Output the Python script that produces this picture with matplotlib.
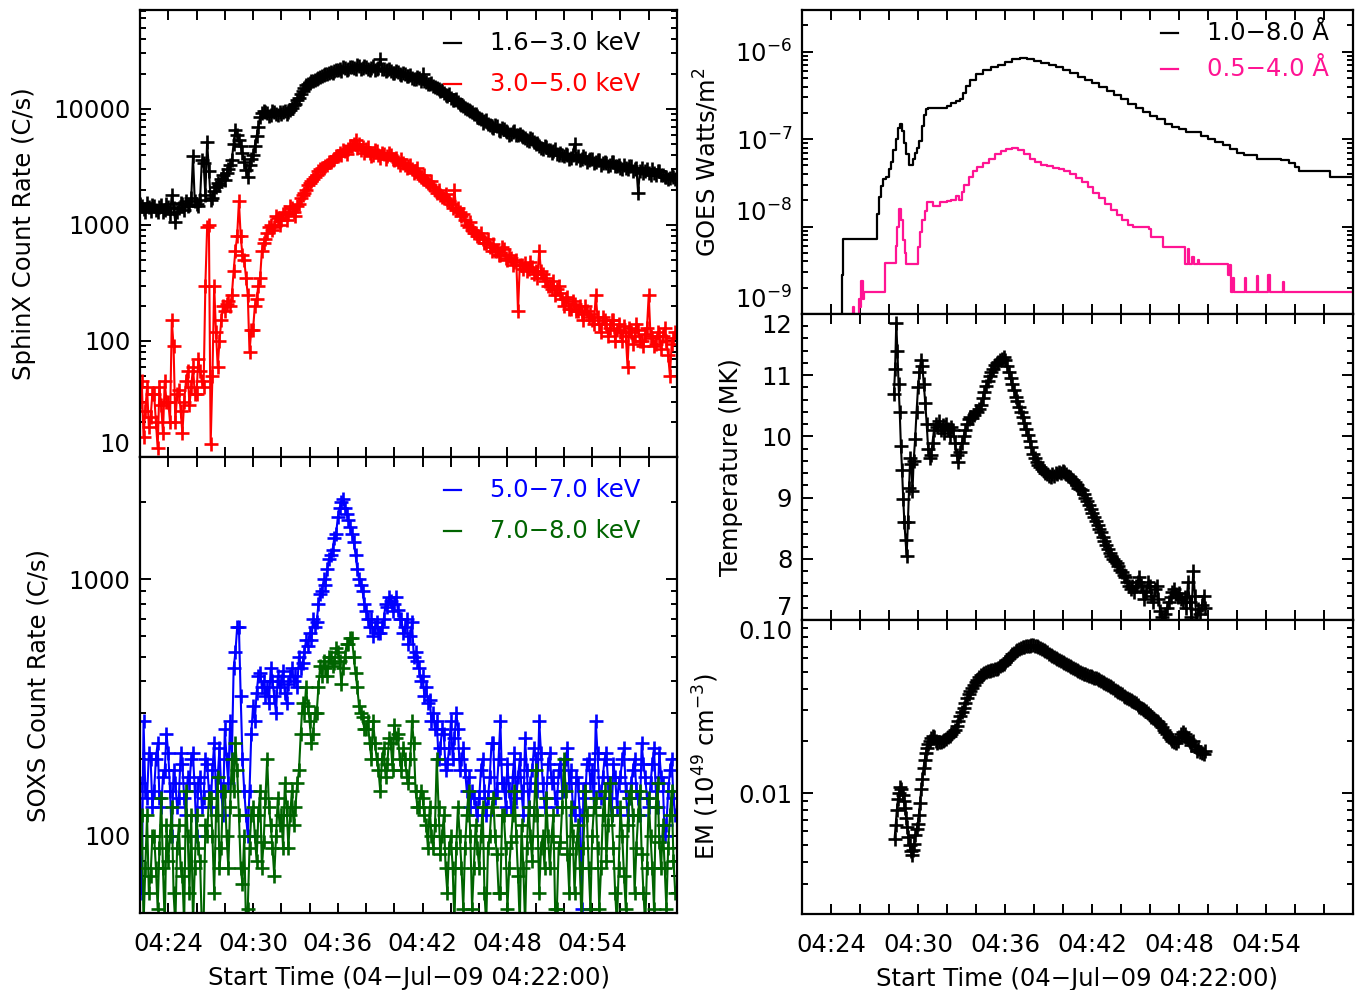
import numpy as np
import matplotlib
matplotlib.use("Agg")
import matplotlib.pyplot as plt
from matplotlib.ticker import FixedLocator, LogLocator, NullFormatter, FuncFormatter, MultipleLocator

# ---------------- data (time in minutes after 04:22:00) ----------------
tick_minutes = [2, 8, 14, 20, 26, 32]
tick_labels = ["04:24", "04:30", "04:36", "04:42", "04:48", "04:54"]
x_range = [0, 38]

cadence = 0.125  # minutes between SphinX / SOXS samples

sphinx_low = [
    1500, 1450, 1380, 1300, 1550, 1420, 1320, 1480,
    1450, 1350, 1280, 1420, 1480, 1300, 1350, 1500,
    1420, 1250, 1800, 1400, 1050, 1300, 1400, 1550,
    1500, 1350, 1600, 1450, 1480, 1700, 3900, 1600,
    1520, 1450, 1650, 3600, 3400, 1800, 5200, 2900,
    1650, 1700, 1950, 2100, 2300, 2200, 2500, 2700,
    2450, 2800, 3000, 3300, 3650, 5000, 6600, 6000,
    5400, 4800, 4200, 3500, 2950, 2600, 3300, 3700,
    4000, 4800, 5800, 7000, 8500, 9200, 9600, 9300,
    9200, 8600, 8800, 9500, 9400, 9000, 8900, 9300,
    9000, 9400, 9600, 9100, 9300, 9800, 10200, 10800,
    11000, 11800, 12400, 13300, 14200, 15000, 16000, 16500,
    16800, 17200, 17500, 17800, 18000, 18500, 18900, 19200,
    19500, 19800, 20000, 20500, 20800, 20300, 21000, 21500,
    21500, 22000, 21000, 22800, 22500, 21500, 22000, 23000,
    23000, 22500, 22000, 24000, 23500, 22000, 22500, 23200,
    22800, 22000, 21800, 22500, 23200, 21500, 22000, 22500,
    27000, 22000, 22000, 21000, 21500, 22200, 21000, 20500,
    20500, 21200, 20800, 20000, 19500, 20200, 19800, 19200,
    19000, 19500, 18500, 18000, 18000, 18800, 18600, 17500,
    20000, 17500, 17000, 16500, 16200, 16800, 15800, 15500,
    15000, 14800, 14200, 14500, 13800, 13200, 13000, 13300,
    12500, 12000, 11800, 12200, 11500, 11000, 10800, 10500,
    10200, 10000, 9800, 9500, 9400, 9100, 9000, 8700,
    8400, 8200, 7600, 7900, 8000, 7400, 7200, 7000,
    6900, 7200, 7100, 6600, 6500, 6800, 6700, 6400,
    6300, 6000, 6100, 6300, 6400, 6000, 5900, 6100,
    5800, 5700, 5600, 5400, 5300, 5600, 5500, 5200,
    5000, 5100, 4800, 4600, 4500, 4800, 4700, 4400,
    4400, 4200, 4300, 4500, 4100, 4000, 4200, 4000,
    3900, 4100, 4000, 3700, 3800, 4000, 5000, 3800,
    3900, 3600, 3700, 3900, 3800, 3500, 3600, 3700,
    3700, 3400, 3500, 3600, 3600, 3300, 3400, 3500,
    3400, 3200, 3300, 3500, 3500, 3200, 3200, 3300,
    3100, 3000, 3300, 3100, 3000, 3200, 3200, 2900,
    3000, 3100, 1900, 2900, 3100, 2800, 2900, 3000,
    2800, 2700, 3000, 2800, 2700, 2900, 2900, 2700,
    2700, 2600, 2600, 2500, 2550, 2700, 2600, 2500]

sphinx_high = [
    30, 45, 15, 25, 40, 18, 22, 35,
    35, 20, 12, 40, 28, 16, 45, 30,
    30, 20, 150, 90, 20, 35, 38, 25,
    16, 30, 45, 55, 28, 40, 60, 35,
    35, 70, 55, 45, 40, 300, 950, 1000,
    13, 50, 300, 120, 60, 100, 150, 200,
    180, 210, 220, 200, 250, 400, 600, 800,
    1600, 800, 550, 500, 350, 250, 80, 125,
    125, 200, 230, 300, 350, 600, 700, 750,
    850, 950, 1000, 900, 950, 1200, 1150, 1000,
    1100, 1250, 1300, 1100, 1250, 1450, 1400, 1300,
    1200, 1450, 1500, 1700, 1800, 1900, 2000, 2200,
    2300, 2400, 2500, 2600, 2700, 2900, 3000, 3100,
    3100, 3200, 3300, 3500, 3500, 3600, 3700, 3900,
    3900, 4200, 4000, 4400, 4300, 4100, 4500, 4800,
    4800, 5000, 5400, 4600, 5000, 4400, 4700, 4200,
    4500, 4700, 4200, 3900, 4000, 4400, 4300, 4000,
    3800, 4200, 4100, 3700, 3900, 4200, 4000, 3700,
    3600, 3800, 3500, 3300, 3700, 3400, 3300, 3100,
    3200, 3300, 3000, 2800, 2900, 3100, 2700, 2600,
    2500, 2700, 2400, 2300, 2200, 2400, 2100, 2000,
    1900, 2000, 1800, 1750, 1700, 1850, 1650, 1600,
    1500, 1400, 2000, 1350, 1400, 1300, 1200, 1250,
    1100, 1000, 950, 1050, 900, 850, 850, 800,
    800, 850, 750, 700, 700, 750, 650, 600,
    680, 600, 600, 550, 550, 650, 620, 520,
    500, 550, 520, 450, 480, 500, 180, 450,
    450, 420, 470, 400, 420, 480, 430, 380,
    400, 350, 600, 400, 380, 330, 350, 300,
    300, 280, 330, 250, 280, 300, 260, 230,
    200, 230, 240, 190, 190, 220, 210, 180,
    180, 200, 170, 150, 200, 180, 160, 170,
    150, 140, 250, 160, 140, 120, 160, 150,
    140, 110, 130, 150, 150, 100, 125, 140,
    120, 100, 135, 110, 60, 130, 120, 95,
    110, 140, 125, 100, 100, 90, 115, 130,
    250, 110, 105, 90, 95, 120, 110, 85,
    110, 130, 100, 75, 50, 95, 105, 120]

soxs_low = [
    160, 60, 280, 150, 140, 210, 200, 130,
    150, 200, 230, 140, 130, 170, 180, 250,
    210, 150, 100, 180, 160, 130, 140, 210,
    190, 140, 120, 170, 160, 200, 210, 150,
    100, 160, 170, 130, 140, 200, 190, 150,
    130, 180, 230, 150, 170, 220, 150, 120,
    260, 200, 160, 280, 200, 450, 520, 650,
    650, 350, 200, 150, 120, 100, 150, 250,
    320, 280, 360, 420, 430, 380, 400, 350,
    380, 330, 450, 400, 350, 300, 420, 380,
    400, 440, 360, 330, 390, 420, 450, 400,
    420, 380, 500, 450, 470, 520, 580, 550,
    620, 580, 700, 650, 680, 800, 880, 900,
    1000, 950, 1100, 1200, 1250, 1300, 1450, 1500,
    1750, 1900, 2000, 2050, 1900, 1800, 1700, 1600,
    1500, 1400, 1250, 1100, 1000, 950, 900, 800,
    750, 700, 650, 700, 600, 650, 680, 620,
    620, 650, 700, 800, 780, 850, 820, 750,
    800, 850, 760, 700, 700, 620, 650, 700,
    560, 600, 680, 500, 520, 480, 450, 400,
    420, 350, 380, 330, 340, 280, 300, 260,
    280, 200, 220, 260, 250, 180, 190, 220,
    280, 200, 240, 300, 260, 180, 200, 220,
    180, 150, 170, 130, 150, 140, 130, 120,
    140, 180, 200, 150, 120, 140, 170, 230,
    230, 140, 150, 200, 280, 160, 160, 130,
    190, 150, 130, 170, 210, 140, 170, 200,
    150, 120, 240, 180, 130, 160, 180, 220,
    200, 150, 280, 210, 160, 130, 140, 190,
    210, 160, 170, 140, 130, 180, 190, 150,
    150, 200, 220, 160, 180, 130, 120, 170,
    160, 120, 52, 150, 140, 190, 200, 160,
    180, 130, 280, 210, 150, 140, 170, 200,
    210, 160, 140, 120, 190, 170, 130, 160,
    170, 200, 220, 150, 120, 140, 160, 180,
    200, 150, 140, 120, 230, 190, 170, 140,
    130, 160, 190, 220, 150, 130, 210, 170,
    160, 100, 110, 150, 180, 200, 140, 120]

soxs_high = [
    90, 120, 45, 75, 120, 60, 70, 100,
    100, 75, 52, 90, 140, 75, 45, 110,
    80, 100, 130, 60, 45, 90, 110, 75,
    70, 45, 150, 100, 60, 120, 45, 75,
    120, 90, 80, 45, 45, 110, 100, 140,
    140, 100, 60, 120, 170, 75, 90, 150,
    150, 100, 75, 130, 200, 150, 230, 180,
    120, 75, 65, 100, 45, 52, 90, 120,
    130, 100, 80, 120, 150, 75, 95, 140,
    200, 130, 110, 90, 70, 100, 140, 110,
    120, 90, 160, 130, 90, 120, 150, 110,
    130, 160, 180, 250, 330, 300, 380, 320,
    280, 230, 250, 300, 300, 380, 460, 420,
    480, 450, 420, 500, 500, 460, 470, 540,
    520, 480, 390, 450, 500, 560, 560, 590,
    590, 500, 430, 380, 320, 300, 290, 260,
    260, 280, 230, 200, 280, 230, 200, 180,
    150, 200, 220, 170, 190, 240, 230, 180,
    270, 240, 250, 200, 180, 220, 200, 170,
    160, 200, 280, 230, 150, 130, 130, 150,
    140, 120, 110, 90, 130, 100, 90, 110,
    200, 130, 85, 100, 120, 75, 60, 90,
    100, 75, 45, 90, 130, 100, 75, 52,
    90, 120, 150, 100, 52, 75, 110, 90,
    75, 100, 130, 60, 45, 90, 100, 130,
    140, 100, 85, 60, 60, 120, 120, 90,
    52, 75, 95, 120, 150, 100, 70, 45,
    110, 75, 45, 90, 130, 100, 80, 120,
    180, 120, 60, 90, 100, 75, 140, 100,
    75, 100, 120, 52, 52, 90, 95, 130,
    200, 150, 85, 60, 130, 100, 60, 90,
    110, 75, 45, 90, 150, 120, 75, 52,
    100, 130, 140, 90, 52, 75, 120, 150,
    80, 110, 160, 120, 90, 60, 45, 75,
    130, 100, 70, 52, 110, 140, 150, 120,
    60, 90, 120, 150, 85, 60, 45, 75,
    140, 100, 75, 52, 130, 160, 95, 75,
    110, 75, 52, 90, 120, 150, 80, 60]

goes_long_t = [2.6, 2.75, 2.85, 5.15, 5.3, 5.45, 5.6, 5.8, 6.0, 6.15, 6.3, 6.45, 6.6, 6.75,
               6.9, 7.05, 7.2, 7.35, 7.5, 7.65, 7.8, 7.95, 8.1, 8.25, 8.4, 8.55, 8.7, 9.0,
               9.5, 10.0, 10.3, 10.6, 10.9, 11.1, 11.3, 11.6, 12.0, 12.5, 13.0, 13.5, 14.0,
               14.5, 15.0, 15.5, 16.0, 16.5, 17.0, 17.5, 18.0, 18.5, 19.0, 19.5, 20.0, 20.5,
               21.0, 21.5, 22.0, 22.5, 23.0, 23.5, 24.0, 24.5, 25.0, 25.5, 26.0, 26.5, 27.0,
               27.5, 28.0, 28.5, 29.0, 29.5, 30.0, 30.5, 31.0, 31.4, 32.5, 33.0, 33.6, 34.0,
               34.3, 36.4, 38.0]
goes_long = [5e-10, 2.8e-9, 7.2e-9, 1.4e-8, 2.2e-8, 2.9e-8, 3.5e-8, 3.7e-8, 4.5e-8, 5.5e-8,
             7.5e-8, 1.0e-7, 1.35e-7, 1.5e-7, 1.25e-7, 9e-8, 6.8e-8, 5e-8, 5e-8, 6e-8, 7e-8,
             8e-8, 9.5e-8, 1.4e-7, 1.9e-7, 2.2e-7, 2.3e-7, 2.25e-7, 2.3e-7, 2.4e-7, 2.6e-7,
             2.7e-7, 2.9e-7, 3.4e-7, 4.1e-7, 4.8e-7, 5.5e-7, 6.1e-7, 6.6e-7, 7.1e-7, 7.7e-7,
             8.2e-7, 8.4e-7, 8.3e-7, 7.9e-7, 7.5e-7, 7.1e-7, 6.7e-7, 6.2e-7, 5.7e-7, 5.2e-7,
             4.8e-7, 4.35e-7, 3.95e-7, 3.55e-7, 3.2e-7, 2.85e-7, 2.55e-7, 2.3e-7, 2.05e-7,
             1.85e-7, 1.7e-7, 1.5e-7, 1.38e-7, 1.3e-7, 1.22e-7, 1.2e-7, 1.1e-7, 1.0e-7, 9.2e-8,
             8.5e-8, 7.8e-8, 7.0e-8, 6.5e-8, 6.5e-8, 5.9e-8, 5.9e-8, 5.8e-8, 5.4e-8, 4.8e-8,
             4.3e-8, 3.7e-8, 3.7e-8]

goes_short_t = [3.3, 3.5, 3.6, 3.9, 4.0, 4.1, 4.2, 4.3, 4.5, 5.0, 5.5, 5.75, 6.0, 6.3, 6.45,
                6.55, 6.7, 6.85, 6.95, 7.1, 7.2, 7.5, 7.9, 8.0, 8.15, 8.3, 8.45, 8.6, 8.8,
                9.0, 9.4, 9.55, 10.0, 10.3, 10.6, 10.8, 11.0, 11.2, 11.5, 11.8, 12.1, 12.5,
                12.9, 13.3, 13.7, 14.1, 14.5, 14.9, 15.3, 15.7, 16.1, 16.5, 16.9, 17.3, 17.7,
                18.1, 18.5, 18.9, 19.3, 19.7, 20.1, 20.5, 20.9, 21.3, 21.7, 22.1, 22.5, 22.8,
                23.9, 24.1, 24.9, 26.3, 26.4, 26.6, 26.7, 26.9, 27.0, 27.3, 27.4, 29.3, 29.4,
                29.5, 29.6, 29.7, 29.8, 30.5, 30.55, 30.65, 31.3, 31.35, 31.45, 32.1, 32.15,
                32.25, 33.1, 33.15, 33.25, 38.0]
goes_short = [5e-10, 1.2e-9, 8e-10, 1.5e-9, 1.2e-9, 2.4e-9, 1.5e-9, 1.8e-9, 1.8e-9, 1.8e-9,
              1.8e-9, 3.8e-9, 3.8e-9, 3.8e-9, 6e-9, 1.0e-8, 1.6e-8, 1.2e-8, 7e-9, 5e-9,
              3.7e-9, 3.7e-9, 3.7e-9, 5.8e-9, 8.7e-9, 1.2e-8, 1.5e-8, 1.9e-8, 1.9e-8, 1.7e-8,
              1.7e-8, 1.9e-8, 1.95e-8, 2.0e-8, 2.25e-8, 2.0e-8, 2.5e-8, 3.0e-8, 3.7e-8, 4.3e-8,
              4.8e-8, 5.4e-8, 6.0e-8, 6.7e-8, 7.3e-8, 7.8e-8, 7.9e-8, 7.5e-8, 6.8e-8, 6.0e-8,
              5.5e-8, 5.1e-8, 4.9e-8, 4.7e-8, 4.6e-8, 4.3e-8, 4.0e-8, 3.6e-8, 3.2e-8, 2.8e-8,
              2.4e-8, 2.1e-8, 1.8e-8, 1.55e-8, 1.35e-8, 1.2e-8, 1.05e-8, 9.8e-9, 9.4e-9, 7.5e-9,
              5.8e-9, 5.8e-9, 3.7e-9, 5.5e-9, 3.7e-9, 4.5e-9, 3.7e-9, 4.2e-9, 3.7e-9, 3.7e-9,
              2.8e-9, 3.6e-9, 1.8e-9, 2.6e-9, 1.8e-9, 1.8e-9, 2.6e-9, 1.8e-9, 1.8e-9, 2.7e-9,
              1.8e-9, 1.8e-9, 2.8e-9, 1.8e-9, 1.8e-9, 2.3e-9, 1.8e-9, 1.8e-9]

temp_t = [6.34, 6.42, 6.50, 6.58, 6.66, 6.74, 6.82, 6.90, 6.98, 7.06, 7.14, 7.22, 7.30, 7.38,
          7.46, 7.54, 7.62, 7.70, 7.80, 7.90, 8.00, 8.10, 8.20, 8.30, 8.40, 8.50, 8.60, 8.70,
          8.80, 8.90, 9.00, 9.10, 9.22, 9.34, 9.46, 9.58, 9.70, 9.82, 9.94, 10.06, 10.18,
          10.30, 10.42, 10.54, 10.66, 10.78, 10.90, 11.02, 11.14, 11.26, 11.38, 11.50, 11.62,
          11.74, 11.86, 11.98, 12.10, 12.22, 12.34, 12.46, 12.58, 12.70, 12.82, 12.94, 13.06,
          13.18, 13.30, 13.42, 13.54, 13.66, 13.78, 13.90, 14.02, 14.14, 14.26, 14.38, 14.50,
          14.62, 14.74, 14.86, 14.98, 15.10, 15.22, 15.34, 15.46, 15.58, 15.70, 15.82, 15.94,
          16.06, 16.18, 16.30, 16.42, 16.54, 16.66, 16.78, 16.90, 17.02, 17.14, 17.26, 17.38,
          17.50, 17.62, 17.74, 17.86, 17.98, 18.10, 18.22, 18.34, 18.46, 18.58, 18.70, 18.82,
          18.94, 19.06, 19.18, 19.30, 19.42, 19.54, 19.66, 19.78, 19.90, 20.02, 20.14, 20.26,
          20.38, 20.50, 20.62, 20.74, 20.86, 20.98, 21.10, 21.22, 21.34, 21.46, 21.58, 21.70,
          21.82, 21.94, 22.06, 22.18, 22.30, 22.42, 22.54, 22.66, 22.78, 22.90, 23.02, 23.14,
          23.26, 23.38, 23.50, 23.62, 23.74, 23.86, 23.98, 24.10, 24.22, 24.34, 24.46, 24.58,
          24.70, 24.82, 24.94, 25.06, 25.18, 25.30, 25.42, 25.54, 25.66, 25.78, 25.90, 26.02,
          26.14, 26.26, 26.38, 26.50, 26.62, 26.74, 26.86, 26.98, 27.10, 27.22, 27.34, 27.46,
          27.58, 27.70, 27.82]
temperature = [10.70, 11.10, 11.85, 11.40, 10.85, 10.40, 9.85, 9.45, 8.98, 8.60, 8.30, 8.05,
               8.60, 9.15, 9.65, 9.55, 9.10, 9.60, 9.95, 10.40, 10.80, 11.05, 11.25, 11.15,
               10.85, 10.55, 10.20, 9.80, 9.65, 9.70, 9.90, 10.10, 10.20, 10.15, 10.25, 10.10,
               10.18, 10.05, 10.20, 10.12, 10.00, 10.15, 10.10, 9.90, 9.70, 9.58, 9.75, 9.90,
               10.00, 10.10, 10.20, 10.28, 10.32, 10.30, 10.35, 10.42, 10.40, 10.45, 10.52,
               10.62, 10.72, 10.82, 10.90, 10.98, 11.05, 11.10, 11.16, 11.20, 11.22, 11.25,
               11.27, 11.30, 11.25, 11.15, 11.05, 10.95, 10.85, 10.75, 10.65, 10.58, 10.48,
               10.40, 10.32, 10.22, 10.12, 10.02, 9.92, 9.82, 9.72, 9.64, 9.58, 9.54, 9.50,
               9.46, 9.43, 9.40, 9.38, 9.36, 9.34, 9.38, 9.35, 9.40, 9.38, 9.42, 9.40, 9.44,
               9.42, 9.38, 9.36, 9.34, 9.30, 9.28, 9.25, 9.20, 9.16, 9.14, 9.12, 9.06, 9.00,
               8.94, 8.88, 8.81, 8.75, 8.68, 8.62, 8.55, 8.49, 8.43, 8.36, 8.29, 8.22, 8.16,
               8.10, 8.05, 8.00, 7.96, 7.93, 7.88, 7.82, 7.78, 7.74, 7.70, 7.62, 7.56, 7.50,
               7.55, 7.45, 7.55, 7.62, 7.70, 7.58, 7.48, 7.35, 7.45, 7.62, 7.55, 7.40, 7.30,
               7.50, 7.56, 7.35, 7.15, 7.05, 6.95, 7.10, 7.20, 7.30, 7.38, 7.45, 7.50, 7.42,
               7.38, 7.44, 7.35, 7.30, 7.38, 7.20, 7.62, 7.30, 7.05, 7.80, 7.40, 6.90, 7.18,
               7.10, 7.25, 7.40, 7.20]

em_t = [6.38, 6.46, 6.54, 6.62, 6.70, 6.78, 6.86, 6.94, 7.02, 7.10, 7.18, 7.26, 7.34, 7.42,
        7.50, 7.58, 7.66, 7.74, 7.82, 7.90, 7.98, 8.06, 8.14, 8.22, 8.30, 8.38, 8.46, 8.54,
        8.62, 8.70, 8.80, 8.90, 9.00, 9.10, 9.22, 9.34, 9.46, 9.58, 9.70, 9.82, 9.94, 10.06,
        10.18, 10.30, 10.42, 10.54, 10.66, 10.78, 10.90, 11.02, 11.14, 11.26, 11.38, 11.50,
        11.62, 11.74, 11.86, 11.98, 12.10, 12.22, 12.34, 12.46, 12.58, 12.70, 12.82, 12.94,
        13.06, 13.18, 13.30, 13.42, 13.54, 13.66, 13.78, 13.90, 14.02, 14.14, 14.26, 14.38,
        14.50, 14.62, 14.74, 14.86, 14.98, 15.10, 15.22, 15.34, 15.46, 15.58, 15.70, 15.82,
        15.94, 16.06, 16.18, 16.30, 16.42, 16.54, 16.66, 16.78, 16.90, 17.02, 17.14, 17.26,
        17.38, 17.50, 17.62, 17.74, 17.86, 17.98, 18.10, 18.22, 18.34, 18.46, 18.58, 18.70,
        18.82, 18.94, 19.06, 19.18, 19.30, 19.42, 19.54, 19.66, 19.78, 19.90, 20.02, 20.14,
        20.26, 20.38, 20.50, 20.62, 20.74, 20.86, 20.98, 21.10, 21.22, 21.34, 21.46, 21.58,
        21.70, 21.82, 21.94, 22.06, 22.18, 22.30, 22.42, 22.54, 22.66, 22.78, 22.90, 23.02,
        23.14, 23.26, 23.38, 23.50, 23.62, 23.74, 23.86, 23.98, 24.10, 24.22, 24.34, 24.46,
        24.58, 24.70, 24.82, 24.94, 25.06, 25.18, 25.30, 25.42, 25.54, 25.66, 25.78, 25.90,
        26.02, 26.14, 26.26, 26.38, 26.50, 26.62, 26.74, 26.86, 26.98, 27.10, 27.22, 27.34,
        27.46, 27.58, 27.70, 27.82]
emission_measure = [0.0054, 0.0065, 0.0080, 0.0092, 0.0100, 0.0108, 0.0105, 0.0098, 0.0090,
                    0.0082, 0.0072, 0.0064, 0.0056, 0.0050, 0.0046, 0.0044, 0.0047, 0.0051,
                    0.0057, 0.0062, 0.0066, 0.0075, 0.0088, 0.0105, 0.0120, 0.0140, 0.0155,
                    0.0170, 0.0182, 0.0192, 0.0200, 0.0208, 0.0214, 0.0210, 0.0200, 0.0195,
                    0.0198, 0.0196, 0.0200, 0.0203, 0.0206, 0.0210, 0.0214, 0.0218, 0.0224,
                    0.0232, 0.0244, 0.0260, 0.0278, 0.0295, 0.0312, 0.0332, 0.0352, 0.0372,
                    0.0390, 0.0406, 0.0422, 0.0438, 0.0452, 0.0466, 0.0478, 0.0488, 0.0496,
                    0.0502, 0.0506, 0.0509, 0.0512, 0.0515, 0.0518, 0.0522, 0.0530, 0.0540,
                    0.0550, 0.0560, 0.0570, 0.0584, 0.0600, 0.0616, 0.0632, 0.0647, 0.0660,
                    0.0672, 0.0680, 0.0688, 0.0694, 0.0700, 0.0705, 0.0709, 0.0712, 0.0714,
                    0.0714, 0.0710, 0.0705, 0.0698, 0.0690, 0.0682, 0.0674, 0.0664, 0.0652,
                    0.0640, 0.0630, 0.0620, 0.0612, 0.0605, 0.0598, 0.0590, 0.0580, 0.0570,
                    0.0562, 0.0554, 0.0546, 0.0540, 0.0532, 0.0526, 0.0518, 0.0512, 0.0506,
                    0.0500, 0.0496, 0.0490, 0.0486, 0.0480, 0.0476, 0.0472, 0.0468, 0.0465,
                    0.0460, 0.0455, 0.0450, 0.0444, 0.0438, 0.0432, 0.0426, 0.0422, 0.0415,
                    0.0408, 0.0402, 0.0396, 0.0390, 0.0384, 0.0378, 0.0372, 0.0366, 0.0360,
                    0.0353, 0.0348, 0.0345, 0.0340, 0.0336, 0.0330, 0.0322, 0.0316, 0.0310,
                    0.0304, 0.0300, 0.0296, 0.0290, 0.0282, 0.0276, 0.0272, 0.0266, 0.0262,
                    0.0258, 0.0250, 0.0240, 0.0232, 0.0226, 0.0220, 0.0212, 0.0206, 0.0200,
                    0.0196, 0.0194, 0.0200, 0.0210, 0.0218, 0.0224, 0.0220, 0.0212, 0.0204,
                    0.0196, 0.0190, 0.0200, 0.0186, 0.0176, 0.0180, 0.0172, 0.0170, 0.0168,
                    0.0175]

# ---------------- styling ----------------
FS = 17.5
plt.rcParams["font.family"] = ["DejaVu Sans"]
plt.rcParams["font.size"] = FS
plt.rcParams["mathtext.default"] = "regular"

W, H = 1361, 990
fig = plt.figure(figsize=(W / 100, H / 100), dpi=100)


def px_axes(x0, y0, x1, y1):
    return fig.add_axes([x0 / W, 1 - y1 / H, (x1 - x0) / W, (y1 - y0) / H])


ax_sx = px_axes(140, 10, 677, 457)
ax_so = px_axes(140, 457, 677, 913)
ax_go = px_axes(802, 10, 1353, 314)
ax_te = px_axes(802, 314, 1353, 620)
ax_em = px_axes(802, 620, 1353, 914)

time_ticks = list(range(2, 38, 2))
label_map = dict(zip(tick_minutes, tick_labels))


def style(ax, show_xlabels):
    for s in ax.spines.values():
        s.set_linewidth(1.6)
    ax.set_xlim(*x_range)
    ax.xaxis.set_major_locator(FixedLocator(time_ticks))
    ax.xaxis.set_minor_locator(FixedLocator([]))
    if show_xlabels:
        ax.xaxis.set_major_formatter(FuncFormatter(lambda v, p: label_map.get(int(round(v)), "")))
        ax.set_xlabel("Start Time (04\u2212Jul\u221209 04:22:00)", fontsize=FS, labelpad=7)
    else:
        ax.xaxis.set_major_formatter(NullFormatter())
    ax.tick_params(which="both", direction="in", top=True, right=True, width=1.4)
    ax.tick_params(which="major", length=8)
    ax.tick_params(which="minor", length=4.5)
    ax.tick_params(axis="x", which="major", length=7.5, pad=14, labelsize=FS)
    ax.tick_params(axis="y", which="both", pad=7, labelsize=FS)


def log_minor(ax):
    ax.yaxis.set_minor_locator(LogLocator(base=10, subs=np.arange(2, 10)))
    ax.yaxis.set_minor_formatter(NullFormatter())


def legend_entry(ax, yfrac, text, color, x0, x1, xt):
    ax.plot([x0, x1], [yfrac, yfrac], transform=ax.transAxes, color=color, lw=1.6,
            clip_on=False)
    ax.text(xt, yfrac, text, transform=ax.transAxes, color=color, fontsize=FS,
            ha="left", va="center")


mk = dict(marker="+", markersize=10.5, markeredgewidth=1.9, lw=1.5)

# --- SphinX panel ---
t_sx = cadence * np.arange(len(sphinx_low))
ax_sx.plot(t_sx, sphinx_low, color="black", **mk)
ax_sx.plot(t_sx, sphinx_high, color="red", **mk)
ax_sx.set_yscale("log")
ax_sx.set_ylim(10, 7.1e4)
ax_sx.yaxis.set_major_locator(FixedLocator([10, 100, 1000, 10000]))
ax_sx.yaxis.set_major_formatter(FuncFormatter(lambda v, p: f"{v:g}"))
log_minor(ax_sx)
style(ax_sx, False)
ax_sx.set_ylabel("SphinX Count Rate (C/s)", fontsize=FS, labelpad=12)
legend_entry(ax_sx, 0.926, "1.6\u22123.0 keV", "black", 0.566, 0.597, 0.652)
legend_entry(ax_sx, 0.834, "3.0\u22125.0 keV", "red", 0.566, 0.597, 0.652)

# --- SOXS panel ---
t_so = cadence * np.arange(len(soxs_low))
ax_so.plot(t_so, soxs_low, color="blue", **mk)
ax_so.plot(t_so, soxs_high, color="#006400", **mk)
ax_so.set_yscale("log")
ax_so.set_ylim(50, 3000)
ax_so.yaxis.set_major_locator(FixedLocator([100, 1000]))
ax_so.yaxis.set_major_formatter(FuncFormatter(lambda v, p: f"{v:g}"))
log_minor(ax_so)
style(ax_so, True)
ax_so.set_ylabel("SOXS Count Rate (C/s)", fontsize=FS, labelpad=13)
legend_entry(ax_so, 0.928, "5.0\u22127.0 keV", "blue", 0.566, 0.597, 0.652)
legend_entry(ax_so, 0.838, "7.0\u22128.0 keV", "#006400", 0.566, 0.597, 0.652)

# --- GOES panel ---
ax_go.plot(goes_long_t, goes_long, color="black", lw=1.6, drawstyle="steps-post")
ax_go.plot(goes_short_t, goes_short, color="#ff1493", lw=1.6, drawstyle="steps-post")
ax_go.set_yscale("log")
ax_go.set_ylim(1e-9, 3e-6)
ax_go.yaxis.set_major_locator(FixedLocator([1e-9, 1e-8, 1e-7, 1e-6]))
ax_go.yaxis.set_major_formatter(FuncFormatter(lambda v, p: r"$10^{%d}$" % int(round(np.log10(v)))))
log_minor(ax_go)
style(ax_go, False)
ax_go.set_ylabel("GOES Watts/m$^2$", fontsize=FS, labelpad=10)
legend_entry(ax_go, 0.924, "1.0\u22128.0 \u00c5", "black", 0.652, 0.683, 0.735)
legend_entry(ax_go, 0.806, "0.5\u22124.0 \u00c5", "#ff1493", 0.652, 0.683, 0.735)

# --- Temperature panel ---
ax_te.plot(temp_t, temperature, color="black", **mk)
ax_te.set_ylim(7, 12)
ax_te.yaxis.set_major_locator(MultipleLocator(1))
ax_te.yaxis.set_minor_locator(MultipleLocator(0.2))
ax_te.yaxis.set_major_formatter(FuncFormatter(lambda v, p: f"{v:.0f}"))
style(ax_te, False)
ax_te.set_ylabel("Temperature (MK)", fontsize=FS, labelpad=13)

# --- EM panel ---
ax_em.plot(em_t, emission_measure, color="black", **mk)
ax_em.set_yscale("log")
ax_em.set_ylim(0.002, 0.1)
ax_em.yaxis.set_major_locator(FixedLocator([0.01, 0.1]))
ax_em.yaxis.set_major_formatter(FuncFormatter(lambda v, p: "0.01" if v < 0.05 else "0.10"))
log_minor(ax_em)
style(ax_em, True)
ax_em.set_ylabel("EM (10$^{49}$ cm$^{-3}$)", fontsize=FS, labelpad=12)

# labels sitting on a shared panel edge are nudged inside their own panel (as in the original)
fig.canvas.draw()


def nudge_edge_labels(ax):
    lo, hi = ax.get_ylim()
    for tick in ax.yaxis.get_major_ticks():
        loc = tick.get_loc()
        if np.isclose(loc, lo, rtol=1e-6):
            tick.label1.set_va("bottom")
        elif np.isclose(loc, hi, rtol=1e-6):
            tick.label1.set_va("top")


for a in (ax_sx, ax_go, ax_te, ax_em):
    nudge_edge_labels(a)

fig.savefig("out.png", dpi=100)
